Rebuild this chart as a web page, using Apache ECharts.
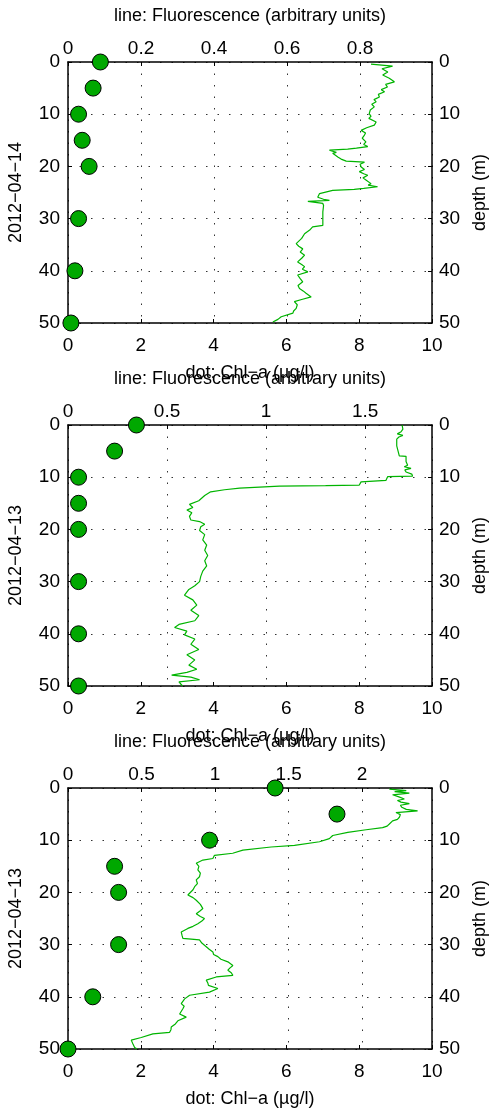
<!DOCTYPE html>
<html>
<head>
<meta charset="utf-8">
<script src="https://cdn.jsdelivr.net/npm/echarts@6/dist/echarts.min.js"></script>
<style>
	html, body { margin: 0; padding: 0; background: #fff; }
	#chart { width: 492px; height: 1110px; }
</style>
</head>
<body>
<div id="chart"></div>
<script>
	/* ---------------------------------------------
     Data
--------------------------------------------- */

	// bottle sample depths (m), shared by all three casts
	const dotDepths = [0, 5, 10, 15, 20, 30, 40, 50];

	// Chl-a per cast (ug/l)
	const chl1 = [0.89, 0.69, 0.29, 0.39, 0.58, 0.29, 0.19, 0.08];
	const chl2 = [1.88, 1.28, 0.29, 0.29, 0.29, 0.29, 0.29, 0.29];
	const chl3 = [5.69, 7.39, 3.89, 1.28, 1.39, 1.39, 0.68, 0.0];

	// fluorescence profiles, [depth, value]
	const fluor1 = [
		[0.4, 0.830], [0.8, 0.889], [1.3, 0.860], [1.9, 0.876], [2.5, 0.862], [3.1, 0.880], [3.8, 0.894], [4.3, 0.870],
		[4.8, 0.875], [5.3, 0.858], [5.7, 0.867], [6.2, 0.850], [6.7, 0.853], [7.2, 0.838], [7.6, 0.844], [8.1, 0.832],
		[8.6, 0.839], [9.2, 0.828], [9.9, 0.825], [10.4, 0.830], [10.8, 0.824], [11.5, 0.844], [12.1, 0.839], [12.6, 0.818],
		[13.1, 0.803], [13.6, 0.815], [14.0, 0.812], [14.6, 0.806], [15.3, 0.816], [15.8, 0.810], [16.2, 0.821], [16.5, 0.790],
		[16.7, 0.766], [16.9, 0.716], [17.3, 0.735], [17.5, 0.725], [18.2, 0.739], [18.6, 0.748], [19.0, 0.762], [19.2, 0.812],
		[19.6, 0.800], [20.1, 0.803], [20.6, 0.812], [21.0, 0.798], [21.4, 0.810], [21.7, 0.821], [22.2, 0.808], [22.6, 0.816],
		[23.3, 0.830], [23.6, 0.822], [23.9, 0.848], [24.2, 0.810], [24.4, 0.784], [24.6, 0.725], [25.2, 0.689], [25.9, 0.684],
		[26.3, 0.700], [26.5, 0.716], [26.7, 0.657], [27.1, 0.698], [27.5, 0.700], [28.7, 0.698], [30.0, 0.698], [31.3, 0.698],
		[31.6, 0.670], [32.2, 0.662], [32.9, 0.648], [33.8, 0.640], [34.8, 0.625], [35.3, 0.632], [35.8, 0.643], [36.4, 0.636],
		[37.0, 0.648], [37.6, 0.640], [38.3, 0.629], [38.8, 0.640], [39.2, 0.648], [39.7, 0.642], [40.2, 0.657], [40.8, 0.629],
		[41.5, 0.636], [42.1, 0.643], [42.8, 0.630], [43.4, 0.634], [43.9, 0.645], [44.3, 0.652], [45.0, 0.666], [45.5, 0.640],
		[45.9, 0.620], [46.5, 0.628], [47.2, 0.625], [47.7, 0.618], [48.1, 0.616], [48.8, 0.584], [49.3, 0.575], [49.8, 0.561],
	];
	const fluor2 = [
		[0.0, 1.686], [0.8, 1.690], [1.3, 1.681], [1.7, 1.662], [2.0, 1.690], [2.3, 1.670], [2.7, 1.659], [4.0, 1.659],
		[5.9, 1.672], [6.0, 1.706], [7.0, 1.706], [7.7, 1.714], [8.0, 1.697], [8.3, 1.731], [8.6, 1.700], [9.0, 1.706],
		[9.4, 1.735], [9.8, 1.739], [9.9, 1.613], [10.6, 1.605], [10.9, 1.479], [11.5, 1.470], [11.6, 1.300], [11.7, 1.067],
		[12.1, 0.866], [12.4, 0.790], [12.8, 0.720], [13.5, 0.690], [14.5, 0.660], [15.2, 0.613], [15.8, 0.630], [16.3, 0.600],
		[16.8, 0.625], [17.5, 0.613], [18.2, 0.620], [18.5, 0.664], [19.0, 0.690], [19.5, 0.670], [20.2, 0.664], [21.0, 0.690],
		[22.0, 0.680], [23.0, 0.700], [24.0, 0.690], [25.0, 0.705], [26.0, 0.690], [27.0, 0.700], [28.0, 0.680], [29.0, 0.670],
		[30.0, 0.664], [30.8, 0.640], [31.5, 0.610], [32.6, 0.588], [33.5, 0.630], [34.5, 0.650], [35.5, 0.620], [36.5, 0.660],
		[37.5, 0.640], [38.2, 0.560], [38.8, 0.538], [39.5, 0.600], [40.2, 0.588], [41.0, 0.640], [42.0, 0.620], [43.0, 0.660],
		[44.0, 0.600], [45.0, 0.640], [46.0, 0.610], [46.8, 0.650], [47.4, 0.600], [47.9, 0.523], [48.3, 0.620], [48.8, 0.664],
		[49.2, 0.560], [50.0, 0.578],
	];
	const fluor3 = [
		[0.2, 2.185], [0.5, 2.300], [0.7, 2.221], [1.0, 2.321], [1.3, 2.207], [1.7, 2.250], [2.1, 2.287], [2.4, 2.240],
		[2.7, 2.264], [3.0, 2.321], [3.3, 2.260], [3.7, 2.270], [4.1, 2.300], [4.4, 2.377], [4.7, 2.230], [5.1, 2.260],
		[5.6, 2.253], [6.0, 2.240], [6.3, 2.207], [6.9, 2.185], [7.3, 2.170], [7.6, 2.139], [8.0, 2.027], [8.5, 1.902],
		[9.1, 1.800], [9.7, 1.777], [10.3, 1.710], [11.0, 1.540], [11.3, 1.381], [11.9, 1.189], [12.5, 1.120], [12.9, 0.996],
		[13.5, 0.985], [13.8, 0.917], [14.4, 0.872], [15.0, 0.890], [15.7, 0.883], [16.3, 0.900], [17.0, 0.894], [17.6, 0.872],
		[18.3, 0.880], [18.9, 0.861], [19.5, 0.850], [20.5, 0.815], [21.0, 0.850], [21.5, 0.872], [22.3, 0.900], [23.1, 0.917],
		[23.6, 0.895], [24.1, 0.872], [24.6, 0.900], [25.0, 0.928], [25.5, 0.910], [26.0, 0.883], [26.5, 0.850], [26.9, 0.815],
		[27.6, 0.770], [28.2, 0.775], [28.8, 0.781], [29.1, 0.894], [29.7, 0.910], [30.4, 0.940], [30.9, 0.960], [31.4, 0.985],
		[31.9, 0.990], [32.3, 1.019], [32.8, 1.040], [33.3, 1.087], [34.0, 1.121], [34.5, 1.100], [34.9, 1.087], [35.4, 1.110],
		[35.9, 1.121], [36.2, 1.008], [36.8, 0.940], [37.3, 0.950], [37.8, 0.955], [38.4, 1.019], [39.1, 0.962], [39.7, 0.827],
		[40.4, 0.793], [41.3, 0.770], [41.8, 0.790], [42.3, 0.781], [43.3, 0.759], [43.9, 0.804], [44.6, 0.747], [45.2, 0.730],
		[45.8, 0.702], [46.3, 0.700], [46.8, 0.691], [47.1, 0.577], [47.8, 0.498], [48.3, 0.430], [49.0, 0.441], [49.7, 0.453],
		[50.0, 0.470],
	];

	// per-panel labels and top-axis ranges
	const castDates = ['2012−04−14', '2012−04−13', '2012−04−13'];
	const fluorMax = [0.997, 1.837, 2.475];
	const fluorStep = [0.2, 0.5, 0.5];

	/* ---------------------------------------------
     Layout helpers
--------------------------------------------- */
	const FONT = '"Liberation Sans", Helvetica, Arial, sans-serif';
	const gridTops = [62, 425, 788];
	const chls = [chl1, chl2, chl3];
	const fluors = [fluor1, fluor2, fluor3];

	const txt = { fontSize: 18, color: '#000', fontFamily: FONT };
	const tickTxt = { fontSize: 19, color: '#000', fontFamily: FONT };
	const frame = { show: true, onZero: false, lineStyle: { color: '#000', width: 1.5 } };
	const tick = { show: true, inside: true, length: 4, lineStyle: { color: '#000', width: 1 } };
	const dotted = { show: true, lineStyle: { color: '#333', width: 1, type: [1.5, 10] } };

	const grid = [];
	const xAxis = [];
	const yAxis = [];
	const series = [];

	for (let i = 0; i < 3; i += 1) {
		grid.push({
			left: 68,
			top: gridTops[i],
			width: 364,
			height: 261,
			containLabel: false,
			outerBoundsMode: 'none',
		});

		// bottom: Chl-a
		xAxis.push({
			gridIndex: i,
			type: 'value',
			position: 'bottom',
			min: 0,
			max: 10,
			interval: 2,
			name: 'dot: Chl−a (µg/l)',
			nameLocation: 'middle',
			nameGap: 41,
			nameTextStyle: txt,
			axisLine: frame,
			axisTick: tick,
			axisLabel: Object.assign({ margin: 13 }, tickTxt),
			splitLine: { show: false },
		});
		// top: fluorescence
		xAxis.push({
			gridIndex: i,
			type: 'value',
			position: 'top',
			min: 0,
			max: fluorMax[i],
			interval: fluorStep[i],
			name: 'line: Fluorescence (arbitrary units)',
			nameLocation: 'middle',
			nameGap: 37,
			nameTextStyle: txt,
			axisLine: frame,
			axisTick: tick,
			axisLabel: Object.assign({ margin: 4, showMaxLabel: false, formatter: v => String(+v.toFixed(2)) }, tickTxt),
			splitLine: dotted,
		});

		yAxis.push({
			gridIndex: i,
			type: 'value',
			position: 'left',
			inverse: true,
			min: 0,
			max: 50,
			interval: 10,
			name: castDates[i],
			nameLocation: 'middle',
			nameRotate: 90,
			nameGap: 43,
			nameTextStyle: txt,
			axisLine: frame,
			axisTick: tick,
			axisLabel: Object.assign({ margin: 8 }, tickTxt),
			splitLine: dotted,
		});
		yAxis.push({
			gridIndex: i,
			type: 'value',
			position: 'right',
			inverse: true,
			min: 0,
			max: 50,
			interval: 10,
			name: 'depth (m)',
			nameLocation: 'middle',
			nameRotate: 90,
			nameGap: 38,
			nameTextStyle: txt,
			axisLine: frame,
			axisTick: tick,
			axisLabel: Object.assign({ margin: 7 }, tickTxt),
			splitLine: { show: false },
		});

		series.push({
			type: 'line',
			xAxisIndex: 2 * i + 1,
			yAxisIndex: 2 * i,
			data: fluors[i].map(d => [d[1], d[0]]),
			showSymbol: false,
			lineStyle: { color: '#00b400', width: 1.2 },
			z: 2,
		});
		series.push({
			type: 'scatter',
			xAxisIndex: 2 * i,
			yAxisIndex: 2 * i,
			data: chls[i].map((v, k) => [v, dotDepths[k]]),
			symbolSize: 16,
			clip: false,
			itemStyle: { color: '#00a800', borderColor: '#000', borderWidth: 1, opacity: 1 },
			z: 3,
		});
	}

	const chart = echarts.init(document.getElementById('chart'));
	chart.setOption({
		backgroundColor: '#fff',
		animation: false,
		textStyle: { fontFamily: FONT },
		grid,
		xAxis,
		yAxis,
		series,
	});
</script>
</body>
</html>
